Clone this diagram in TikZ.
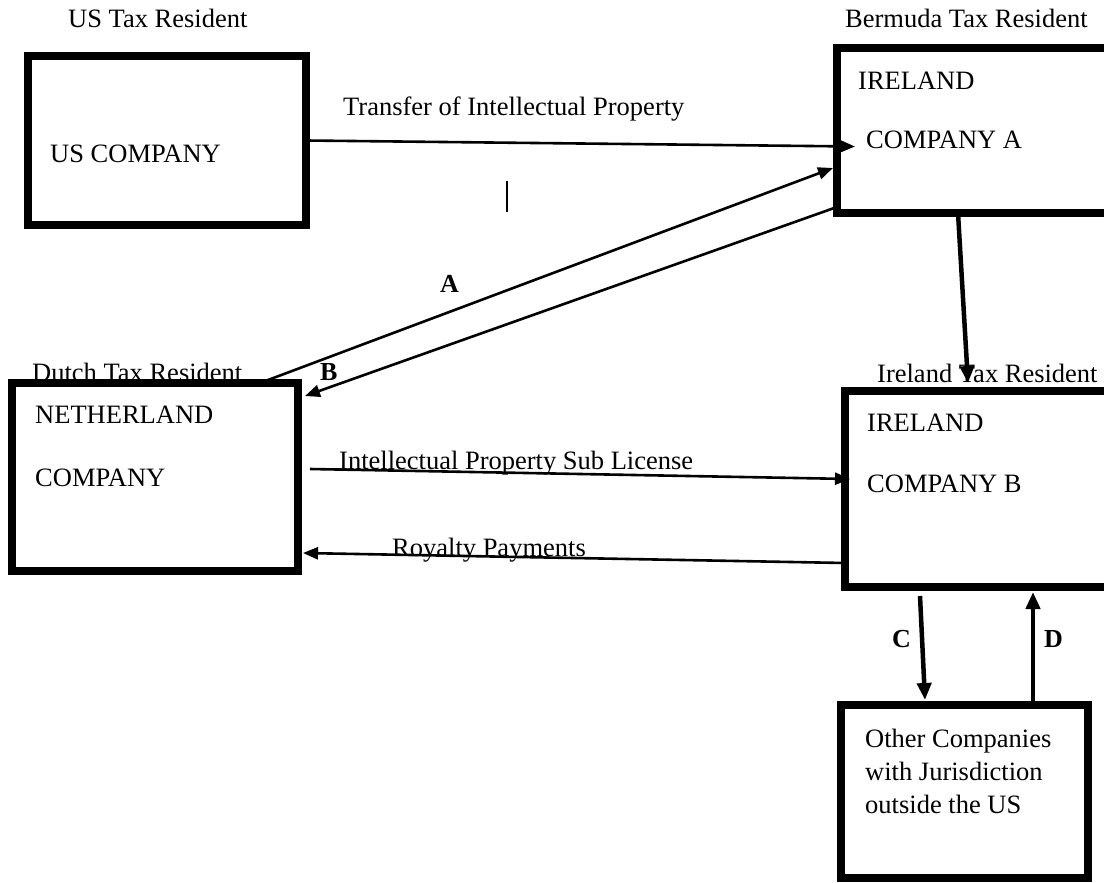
\documentclass[tikz,border=0pt]{standalone}
\usepackage{fontspec}
\setmainfont{Liberation Serif}
\usetikzlibrary{arrows.meta}
\begin{document}
\begin{tikzpicture}[x=1pt,y=-1pt,
  box/.style={draw=black, line width=8.5pt, rectangle, outer sep=0pt, inner sep=0pt, anchor=north west},
  lbl/.style={inner sep=0pt, anchor=base west, font=\fontsize{26.5}{33}\selectfont},
  tag/.style={inner sep=0pt, anchor=base west, font=\fontsize{26}{33}\selectfont\bfseries},
  arr/.style={line width=2.6pt, -{Triangle[length=15pt,width=12pt]}},
  thickarr/.style={line width=4.5pt, -{Triangle[length=17pt,width=14pt]}}]
\useasboundingbox (0,0) rectangle (1104,883);
\clip (0,0) rectangle (1104,883);
\fill[white] (0,0) rectangle (1104,883);

% boxes
\node[box, minimum width=278pt, minimum height=169pt] (us) at (28,56) {};
\node[box, minimum width=285pt, minimum height=165pt] (irA) at (837,48) {};
\node[box, minimum width=286pt, minimum height=188pt] (neth) at (12,383) {};
\node[box, minimum width=277pt, minimum height=196pt] (irB) at (845,391) {};
\node[box, minimum width=247pt, minimum height=173pt] (oth) at (841,705) {};

% box texts
\node[lbl] (usname) at (50,162) {US COMPANY};
\node[lbl] (irA1) at (858,90) {IRELAND};
\node[lbl] (irA2) at (866,148) {COMPANY A};
\node[lbl] (neth1) at (35,423) {NETHERLAND};
\node[lbl] (neth2) at (35,486) {COMPANY};
\node[lbl] (irB1) at (867,431) {IRELAND};
\node[lbl] (irB2) at (867,492) {COMPANY B};
\node[lbl] (oth1) at (865,747) {Other Companies};
\node[lbl] (oth2) at (865,780) {with Jurisdiction};
\node[lbl] (oth3) at (865,813) {outside the US};

% residence labels
\node[lbl] (usres) at (68,28) {US Tax Resident};
\node[lbl] (bmres) at (845,28) {Bermuda Tax Resident};
\node[lbl] (nlres) at (32,381) {Dutch Tax Resident};
\node[lbl] (ieres) at (877,382) {Ireland Tax Resident};

% connectors
\draw[arr] (us.east) -- ([xshift=18pt,yshift=-16pt]irA.west);
\node[lbl] (transfer) at (343,115) {Transfer of Intellectual Property};

\draw[arr] ([xshift=248pt]neth.north west) -- ([xshift=-4pt,yshift=45pt]irA.south west);
\draw[arr] ([yshift=6pt]irA.south west) -- ([xshift=7pt,yshift=-13pt]neth.north east);
\node[tag] (tagA) at (440,292) {A};
\node[tag] (tagB) at (320,380) {B};

\draw[thickarr] ([xshift=121pt]irA.south west) -- ([xshift=123pt,yshift=8pt]irB.north west);

\draw[arr] ([xshift=12pt,yshift=8pt]neth.east) -- ([xshift=5pt,yshift=10pt]irB.west);
\node[lbl] (sublic) at (339,469) {Intellectual Property Sub License};

\draw[arr] ([yshift=24pt]irB.south west) -- ([xshift=5pt,yshift=18pt]neth.south east);
\node[lbl] (royal) at (392,556) {Royalty Payments};

\draw[thickarr] ([xshift=75pt,yshift=-9pt]irB.south west) -- ([xshift=84pt,yshift=5pt]oth.north west);
\draw[thickarr] ([xshift=192pt,yshift=3pt]oth.north west) -- ([xshift=188pt,yshift=-5pt]irB.south west);
\node[tag] (tagC) at (892,647) {C};
\node[tag] (tagD) at (1044,647) {D};

% stray cursor mark
\draw[line width=1.8pt] (507,181) -- (507,212);
\end{tikzpicture}
\end{document}
